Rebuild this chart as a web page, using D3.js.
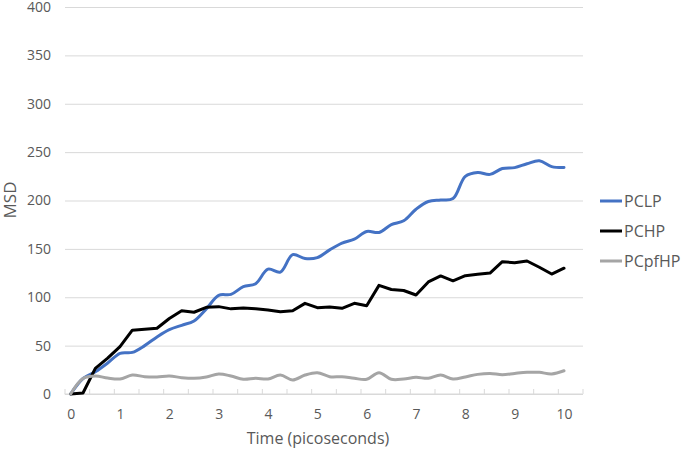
<!DOCTYPE html>
<html>
<head>
<meta charset="utf-8">
<script src="https://cdn.jsdelivr.net/npm/d3@7.9.0/dist/d3.min.js"></script>
<style>
  body { margin: 0; background: #fff; }
  svg { display: block; font-family: "Open Sans", sans-serif; }
  .tick text { fill: #595959; }
</style>
</head>
<body>
<svg width="685" height="452"></svg>
<script>
// time steps (picoseconds), every 0.25 ps
const times = d3.range(0, 10.001, 0.25);

const pclp = [0, 16, 23, 32, 42, 43, 50, 59, 66.5, 71, 75.5, 88, 102, 103, 111, 114, 129, 126, 144, 140,
  141, 149, 156, 160, 168, 167, 175, 179, 191, 199, 200.5, 202, 225, 229, 227, 233, 234, 238, 241, 235, 234];
const pchp = [0, 1, 26.5, 37, 49, 66, 67, 68, 78, 86, 84.5, 89.6, 90.3, 88, 88.9, 88, 86.8, 85, 86, 93.7,
  89.2, 90, 88.6, 93.7, 91.3, 112.3, 108, 107, 102.3, 115.8, 122, 117, 122.3, 123.7, 125, 136.8, 135.7, 137.5, 131, 124, 130];
const pcpfhp = [0, 16, 18.6, 16.5, 15.5, 19.6, 17.9, 17.6, 18.6, 16.9, 16.2, 17.6, 20.7, 18.6, 15.2, 16.2, 15.5, 19.6, 14.5, 19.6,
  22, 17.9, 17.9, 16.2, 15.2, 22, 15.2, 15.5, 17.2, 16.2, 19.6, 15.5, 17.6, 20.3, 21.3, 20, 21.3, 22.4, 22.4, 20.7, 24];

const seriesNames = ["PCLP", "PCHP", "PCpfHP"];
const yTicks = [0, 50, 100, 150, 200, 250, 300, 350, 400];
const xLabels = [0, 1, 2, 3, 4, 5, 6, 7, 8, 9, 10];

const series = [
  { name: seriesNames[0], values: pclp, color: "#4472c4", smooth: true },
  { name: seriesNames[1], values: pchp, color: "#000000", smooth: false },
  { name: seriesNames[2], values: pcpfhp, color: "#a5a5a5", smooth: true },
];

const svg = d3.select("svg");

// category axis: half a category of padding on the left, extra slot on the right
let x = d3.scaleLinear().domain([-0.125, 10.375]).range([64.5, 582.5]);
let y = d3.scaleLinear().domain([0, 400]).range([394, 7]);

// gridlines + y labels
svg.append("g")
  .attr("transform", "translate(65,0)")
  .call(d3.axisLeft(y).tickValues(yTicks).tickSize(-518).tickPadding(14))
  .call((g) => g.select(".domain").remove())
  .call((g) => g.selectAll(".tick line").attr("stroke", "#d9d9d9"))
  .call((g) => g.selectAll(".tick text").attr("font-size", 14).attr("font-family", "Open Sans"));

// x tick marks between categories
let tickPos = d3.range(-0.125, 10.4, 0.5);
svg.append("g")
  .attr("transform", "translate(0,394)")
  .call(d3.axisBottom(x).tickValues(tickPos).tickSize(-5).tickFormat(""))
  .call((g) => g.select(".domain").attr("stroke", "#d9d9d9").attr("d", "M64.5,0H582.5"))
  .call((g) => g.selectAll(".tick line").attr("stroke", "#d9d9d9"));

// x labels
svg.append("g")
  .attr("transform", "translate(0,394)")
  .call(d3.axisBottom(x).tickValues(xLabels).tickSize(0).tickPadding(15).tickFormat(d3.format("d")))
  .call((g) => g.select(".domain").remove())
  .call((g) => g.selectAll(".tick text").attr("font-size", 14).attr("font-family", "Open Sans"));

// lines
series.forEach((s) => {
  let line = d3.line()
    .x((d, i) => x(times[i]))
    .y((d) => y(d))
    .curve(s.smooth ? d3.curveCatmullRom.alpha(0.5) : d3.curveLinear);
  svg.append("path")
    .datum(s.values)
    .attr("d", line)
    .attr("fill", "none")
    .attr("stroke", s.color)
    .attr("stroke-width", 3)
    .attr("stroke-linejoin", "round")
    .attr("stroke-linecap", "round");
});

// axis titles
svg.append("text")
  .attr("x", 318)
  .attr("y", 444)
  .attr("text-anchor", "middle")
  .attr("font-size", 16)
  .attr("fill", "#595959")
  .text("Time (picoseconds)");

svg.append("text")
  .attr("transform", "translate(16,200) rotate(-90)")
  .attr("text-anchor", "middle")
  .attr("font-size", 17)
  .attr("fill", "#595959")
  .text("MSD");

// legend
let legend = svg.append("g").attr("transform", "translate(600,201)");
series.forEach((s, i) => {
  let row = legend.append("g").attr("transform", `translate(0,${i * 30})`);
  row.append("line")
    .attr("x1", 0).attr("x2", 22)
    .attr("stroke", s.color)
    .attr("stroke-width", 3);
  row.append("text")
    .attr("x", 24)
    .attr("dy", "0.35em")
    .attr("font-size", 16)
    .attr("fill", "#595959")
    .text(s.name);
});
</script>
</body>
</html>
